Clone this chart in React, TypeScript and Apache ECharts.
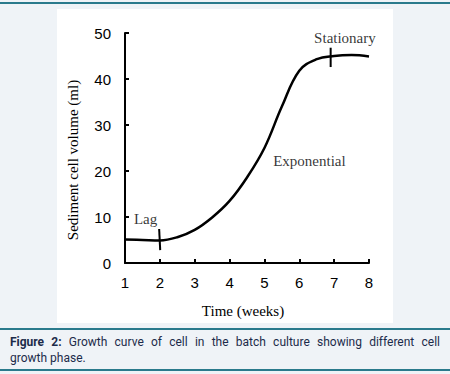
import React, { useEffect, useRef } from "react";
import * as echarts from "echarts";

const weeks = [1, 1.5, 2, 2.5, 3, 3.5, 4, 4.5, 5, 5.5, 6, 6.5, 7, 7.5, 8];
const volume = [5.1, 5.0, 4.9, 5.6, 7.2, 9.9, 13.5, 18.6, 25, 34, 41.8, 44.3, 45, 45.2, 44.9];
const xTicks = [1, 8, 1];
const yTicks = [0, 50, 10];
const lagMarker = [[1.98, 7.4], [2.01, 2.8]];
const stationaryMarker = [[6.9, 46.8], [6.9, 42.6]];
const annotations = [
  { name: "Lag", x: 1.59, y: 9.6 },
  { name: "Exponential", x: 6.29, y: 22.2 },
  { name: "Stationary", x: 7.31, y: 48.9 },
];
const yAxisName = "Sediment cell volume (ml)";
const xAxisName = "Time (weeks)";
const captionBold = "Figure 2:";
const captionLine1 = " Growth curve of cell in the batch culture showing different cell";
const captionLine2 = "growth phase.";

export default function App() {
  const ref = useRef<HTMLDivElement>(null);
  useEffect(() => {
    if (!ref.current) return;
    const chart = echarts.init(ref.current, null, { renderer: "svg" });
    const serif = "'Liberation Serif', 'Times New Roman', serif";
    const sans = "'Liberation Sans', Arial, sans-serif";
    chart.setOption({
      animation: false,
      backgroundColor: "#eff3f7",
      grid: { left: 125, right: 81, top: 33, bottom: 111, containLabel: false },
      graphic: [
        { type: "rect", z: -10, shape: { x: 57, y: 9, width: 336, height: 314 }, style: { fill: "#ffffff" } },
        { type: "rect", z: -10, shape: { x: 0, y: 2, width: 450, height: 2 }, style: { fill: "#2a7a8c" } },
        { type: "rect", z: -10, shape: { x: 0, y: 328, width: 450, height: 2 }, style: { fill: "#2a7a8c" } },
        { type: "rect", z: -10, shape: { x: 0, y: 369, width: 450, height: 2 }, style: { fill: "#2a7a8c" } },
        {
          type: "text",
          x: 73,
          y: 160,
          rotation: Math.PI / 2,
          style: { text: yAxisName, font: `15px ${serif}`, fill: "#000", textAlign: "center", textVerticalAlign: "middle" },
        },
        {
          type: "text",
          x: 243,
          y: 311,
          style: { text: xAxisName, font: `15px ${serif}`, fill: "#000", textAlign: "center", textVerticalAlign: "middle" },
        },
      ],
      xAxis: {
        type: "value",
        min: xTicks[0],
        max: xTicks[1],
        interval: xTicks[2],
        axisLine: { lineStyle: { color: "#000", width: 2 } },
        axisTick: { inside: true, length: 4, lineStyle: { color: "#000", width: 2 } },
        axisLabel: { color: "#000", fontSize: 15, fontFamily: sans, margin: 12 },
        splitLine: { show: false },
      },
      yAxis: {
        type: "value",
        min: yTicks[0],
        max: yTicks[1],
        interval: yTicks[2],
        axisLine: { show: true, lineStyle: { color: "#000", width: 2 } },
        axisTick: { show: true, inside: true, length: 4, lineStyle: { color: "#000", width: 2 } },
        axisLabel: { color: "#000", fontSize: 15, fontFamily: sans, margin: 14 },
        splitLine: { show: false },
      },
      series: [
        {
          type: "line",
          data: weeks.map((w, i) => [w, volume[i]]),
          smooth: 0.4,
          showSymbol: false,
          lineStyle: { color: "#000", width: 2.5 },
        },
        {
          type: "line",
          data: lagMarker,
          showSymbol: false,
          lineStyle: { color: "#000", width: 2 },
        },
        {
          type: "line",
          data: stationaryMarker,
          showSymbol: false,
          lineStyle: { color: "#000", width: 2 },
        },
        {
          type: "scatter",
          symbolSize: 0,
          data: annotations.map((a) => ({ name: a.name, value: [a.x, a.y] })),
          label: {
            show: true,
            position: "inside",
            formatter: (p: any) => p.name,
            color: "#000",
            fontSize: 15,
            fontFamily: serif,
          },
        },
      ],
    });
    return () => chart.dispose();
  }, []);
  return (
    <div style={{ position: "fixed", left: 0, top: 0, width: 450, height: 374 }}>
      <div ref={ref} style={{ width: 450, height: 374 }} />
      <div
        style={{
          position: "absolute",
          left: 10,
          top: 334,
          width: 430,
          fontFamily: "Roboto, 'Noto Sans', sans-serif",
          fontSize: 12,
          lineHeight: "16px",
          color: "#1c2b4a",
        }}
      >
        <div style={{ textAlign: "justify", textAlignLast: "justify", whiteSpace: "nowrap" }}>
          <b>{captionBold}</b>
          {captionLine1}
        </div>
        <div>{captionLine2}</div>
      </div>
    </div>
  );
}
